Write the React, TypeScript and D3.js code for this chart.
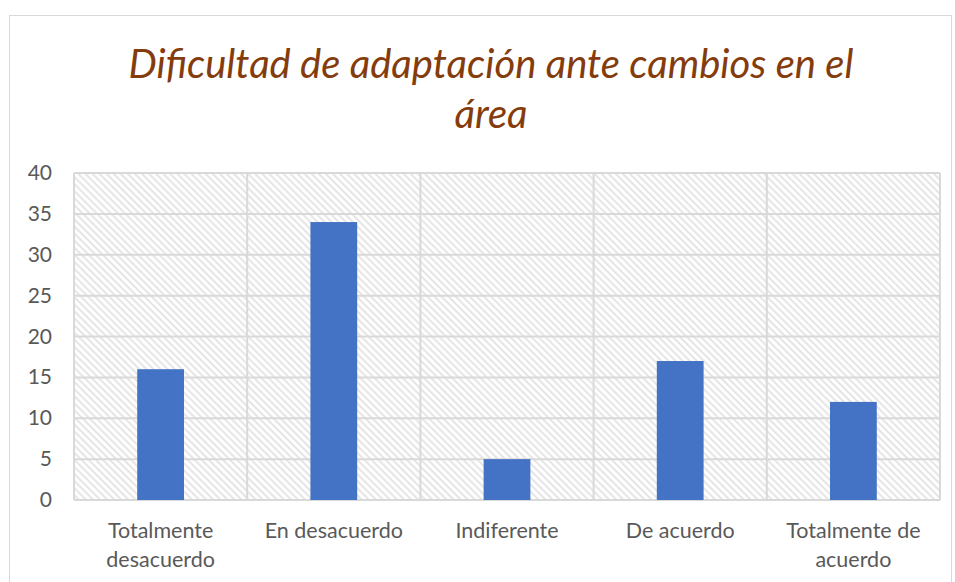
import React from "react";
import * as d3 from "d3";

const categories = [["Totalmente", "desacuerdo"], ["En desacuerdo"], ["Indiferente"], ["De acuerdo"], ["Totalmente de", "acuerdo"]];
const values = [16, 34, 5, 17, 12];
const yTicks = [0, 5, 10, 15, 20, 25, 30, 35, 40];
const titleLines = ["Dificultad de adaptación ante cambios en el", "área"];

export default function App() {
  const W = 955, H = 582;
  const left = 74, right = 940, top = 173, bottom = 500;
  const x = d3.scaleBand().domain(categories.map((_, i) => String(i))).range([left, right]).paddingInner(0).paddingOuter(0);
  const y = d3.scaleLinear().domain([0, 40]).range([bottom, top]);
  const barW = x.bandwidth() * 0.27;
  const font = "Lato, 'Open Sans', sans-serif";
  return (
    <svg width={W} height={H} style={{ position: "absolute", left: 0, top: 0 }}>
      <defs>
        <pattern id="hatch" patternUnits="userSpaceOnUse" width="5" height="5" patternTransform="rotate(45)">
          <rect width="5" height="5" fill="#ffffff" />
          <line x1="0" y1="2.5" x2="5" y2="2.5" stroke="#dedede" strokeWidth="1.6" />
        </pattern>
      </defs>
      <rect x={0} y={0} width={W} height={H} fill="#fff" />
      <rect x={9.5} y={15.5} width={942} height={580} fill="#fff" stroke="#d9d9d9" strokeWidth={1} />
      {titleLines.map((t, i) => (
        <text key={i} x={491} y={78 + i * 50} textAnchor="middle" fontFamily={font} fontStyle="italic" fontSize={40} fill="#843C0C">{t}</text>
      ))}
      <rect x={left} y={top} width={right - left} height={bottom - top} fill="url(#hatch)" />
      {yTicks.map(t => (
        <line key={t} x1={left} x2={right} y1={y(t)} y2={y(t)} stroke="#d9d9d9" strokeWidth={2} />
      ))}
      {d3.range(categories.length + 1).map(i => {
        const xv = left + i * x.step();
        return <line key={i} x1={xv} x2={xv} y1={top} y2={bottom} stroke="#d9d9d9" strokeWidth={2} />;
      })}
      {values.map((v, i) => {
        const cx = (x(String(i)) as number) + x.bandwidth() / 2;
        return <rect key={i} x={cx - barW / 2} y={y(v)} width={barW} height={y(0) - y(v)} fill="#4472C4" />;
      })}
      {yTicks.map(t => (
        <text key={t} x={52} y={y(t) + 7} textAnchor="end" fontFamily={font} fontSize={21} fill="#595959">{t}</text>
      ))}
      {categories.map((lines, i) => {
        const cx = (x(String(i)) as number) + x.bandwidth() / 2;
        return lines.map((l, j) => (
          <text key={i + "-" + j} x={cx} y={538 + j * 29} textAnchor="middle" fontFamily={font} fontSize={21.5} fill="#595959">{l}</text>
        ));
      })}
    </svg>
  );
}
